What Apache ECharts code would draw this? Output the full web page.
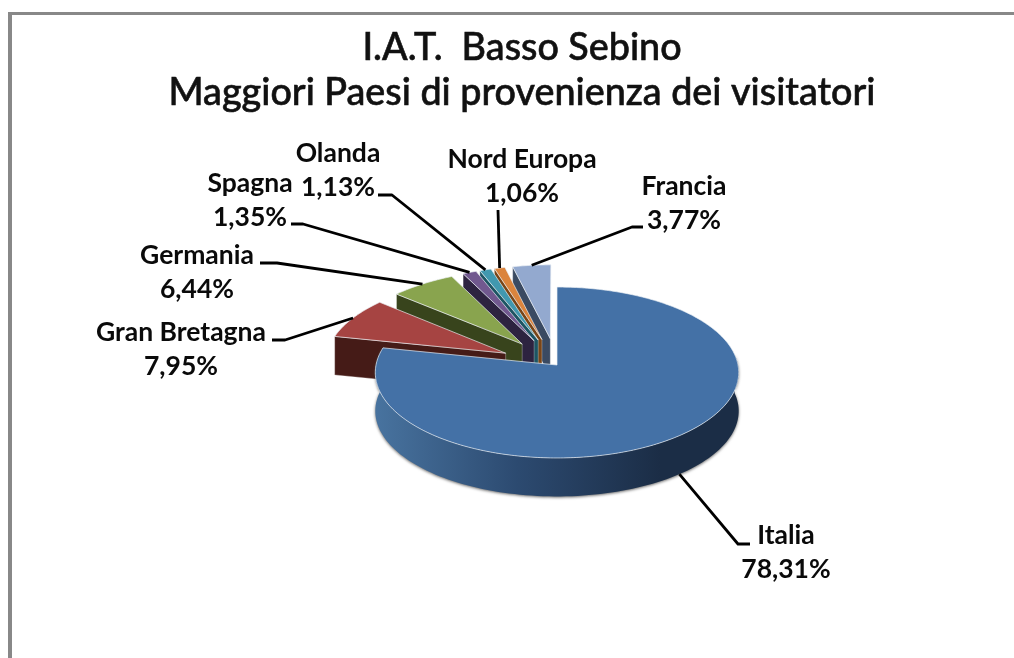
<!DOCTYPE html>
<html>
<head>
<meta charset="utf-8">
<style>html,body{margin:0;padding:0;background:#fff}#c{width:1014px;height:658px}</style>
<script src="https://cdn.jsdelivr.net/npm/echarts@6/dist/echarts.min.js"></script>
</head>
<body>
<div id="c"></div>
<script>
const categories = ['Italia','Gran Bretagna','Germania','Spagna','Olanda','Nord Europa','Francia'];
const values = [78.31,7.95,6.44,1.35,1.13,1.06,3.77];
const titleText = 'I.A.T.  Basso Sebino\nMaggiori Paesi di provenienza dei visitatori';

const topColors = ['#4471a6','#a64442','#89a44e','#71588f','#4198af','#db843d','#93a9cf'];
const wallColors = ['#2b4a70','#451b17','#38441c','#2d2340','#1d5563','#7a4516','#3a4a62'];
const explode = [0,0.32,0.32,0.32,0.32,0.32,0.32];
const labelCenters = [[786,552],[181,349],[197,272],[250,200],[338,170],[522,176],[684,203]];
const leaderKnees = [[[738,544],[750,544]],[[285,340],[272,340]],[[277,263],[260,263]],
  [[303,224],[291,224]],[[392,195],[378,195]],[[498,210],[498,210]],[[632,227],[643,227]]];

const view = {cx:557, cy:365, rx:181, ry:84.8, persp:0.0877, depth:38.5};
const total = values.reduce((a,b)=>a+b,0);
const startAngle = [];
values.reduce((acc,v,i)=>{startAngle[i]=acc/total*Math.PI*2;return acc+v;},0);

function project(u,v){
  const s=1/(1-view.persp*v);
  return [view.cx+view.rx*u*s, view.cy+view.ry*v*s];
}
function rim(i,theta,r){
  const m=startAngle[i]+values[i]/total*Math.PI;
  const e=explode[i];
  return project(e*Math.sin(m)+r*Math.sin(theta), -e*Math.cos(m)-r*Math.cos(theta));
}
const down=p=>[p[0],p[1]+view.depth];

function renderItem(params,api){
  const i=params.dataIndex;
  const a0=startAngle[i], a1=a0+api.value(0)/total*Math.PI*2, mid=(a0+a1)/2;
  const zBase=i===0?200:100-i;
  const children=[];
  const arc=[];
  const n=Math.max(6,Math.ceil((a1-a0)*60));
  for(let k=0;k<=n;k++) arc.push(rim(i,a0+(a1-a0)*k/n,1));
  const apex=rim(i,0,0);

  if(i===0){
    const front=[];
    const from=Math.PI*0.46;
    for(let k=0;k<=120;k++) front.push(rim(i,from+(a1-from)*k/120,1));
    const poly=front.concat(front.slice().reverse().map(down));
    children.push({type:'polygon',z2:zBase,shape:{points:poly},style:{
      fill:new echarts.graphic.LinearGradient(376,0,660,0,[
        {offset:0,color:'#48739f'},{offset:0.5,color:'#2c4a70'},{offset:1,color:'#1b2d46'}],true),
      shadowColor:'rgba(70,70,70,0.8)',shadowBlur:3,shadowOffsetY:1}});
  } else {
    const p=arc[0];
    children.push({type:'polygon',z2:zBase,shape:{points:[apex,p,down(p),down(apex)]},
      style:{fill:wallColors[i],stroke:'rgba(255,255,255,0.5)',lineWidth:0.6}});
  }
  children.push({type:'polygon',z2:zBase+1,shape:{points:[apex].concat(arc)},
    style:{fill:topColors[i],stroke:'rgba(235,240,245,0.75)',lineWidth:0.9,lineJoin:'round'}});

  const anchor=rim(i,mid,1);
  const front=-Math.cos(mid)>0;
  const start=front?down(anchor):anchor;
  children.push({type:'polyline',z2:300,shape:{points:[start].concat(leaderKnees[i])},
    style:{stroke:'#000',lineWidth:2.8,fill:null,lineJoin:'round'}});
  const pct=api.value(0).toFixed(2).replace('.',',')+'%';
  const c=labelCenters[i];
  children.push({type:'text',z2:301,style:{x:c[0],y:c[1],text:categories[i]+'\n'+pct,
    align:'center',verticalAlign:'middle',lineHeight:34,fill:'#0a0a0a',
    font:'bold 26.5px Lato'}});
  return {type:'group',children};
}

const chart=echarts.init(document.getElementById('c'),null,{renderer:'canvas'});
chart.setOption({
  animation:false,
  backgroundColor:'#fff',
  title:{text:titleText,left:517,top:20,textAlign:'center',
    textStyle:{fontFamily:'Lato',fontSize:37.7,fontWeight:500,color:'#111',lineHeight:45,
      textBorderColor:'#111',textBorderWidth:0.6}},
  graphic:[
    {type:'rect',shape:{x:8,y:12,width:4,height:646},style:{fill:'#888'}},
    {type:'rect',shape:{x:8,y:12,width:1006,height:3},style:{fill:'#888'}}
  ],
  series:[{type:'custom',coordinateSystem:'none',silent:true,clip:false,
    renderItem,data:values,encode:{value:0}}]
});
</script>
</body>
</html>
